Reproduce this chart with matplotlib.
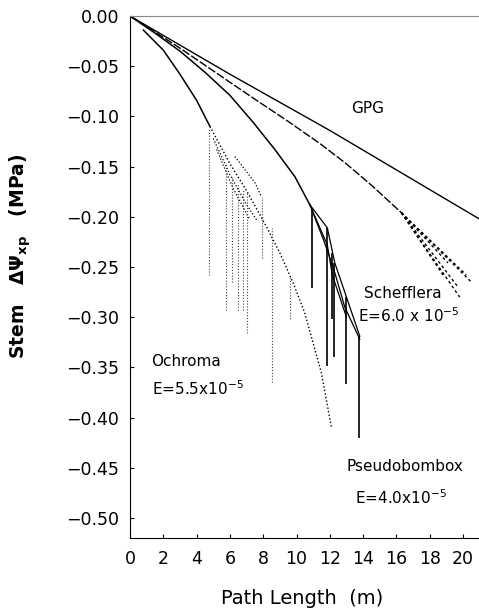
import matplotlib
matplotlib.use("Agg")
import matplotlib.pyplot as plt
import numpy as np

# --- data (path length m, stem dPsi MPa) ---
gpg_x = [0.0, 6.0, 12.0, 20.96]
gpg_y = [0.0, -0.058, -0.114, -0.202]

sch_x = [0.0, 3.0, 6.0, 7.6, 9.5, 11.4, 12.9, 14.6, 16.3]
sch_y = [0.0, -0.032, -0.066, -0.084, -0.105, -0.127, -0.146, -0.170, -0.196]
sch_end_x = [18.8, 19.1, 19.7, 19.8, 20.2, 20.5]
sch_end_y = [-0.258, -0.246, -0.270, -0.280, -0.258, -0.265]

pse_x = [0.0, 1.5, 3.0, 4.5, 6.0, 7.4, 8.7, 9.9, 10.8]
pse_y = [0.0, -0.017, -0.035, -0.056, -0.079, -0.106, -0.133, -0.160, -0.188]
pse_branch_x = [
    [10.8, 11.85, 12.3, 13.0, 13.8],
    [10.8, 11.6, 12.2, 12.9, 13.8],
    [10.8, 11.85, 12.15, 13.0],
]
pse_branch_y = [
    [-0.188, -0.211, -0.246, -0.280, -0.319],
    [-0.188, -0.222, -0.250, -0.290, -0.322],
    [-0.188, -0.228, -0.258, -0.300],
]
pse_drop_x = [10.96, 11.84, 12.14, 12.28, 12.98, 13.77]
pse_drop_top = [-0.191, -0.211, -0.236, -0.246, -0.280, -0.319]
pse_drop_bot = [-0.271, -0.349, -0.302, -0.340, -0.367, -0.420]

och_x = [0.8, 2.0, 3.0, 4.0, 4.8]
och_y = [-0.014, -0.034, -0.058, -0.084, -0.110]
och_dot_x = [4.8, 6.0, 7.0, 8.2, 9.0, 9.8, 10.5, 11.5, 12.1]
och_dot_y = [-0.110, -0.147, -0.174, -0.210, -0.236, -0.266, -0.296, -0.356, -0.410]
och_fan_x = [
    [5.0, 6.0, 7.0, 7.6],
    [5.2, 6.2, 7.2],
    [6.3, 7.5, 7.9],
]
och_fan_y = [
    [-0.122, -0.158, -0.188, -0.203],
    [-0.133, -0.172, -0.203],
    [-0.140, -0.166, -0.180],
]
och_drop_x = [4.75, 5.75, 6.15, 6.47, 6.77, 7.0, 7.9, 8.55, 9.6]
och_drop_top = [-0.112, -0.147, -0.160, -0.167, -0.173, -0.176, -0.180, -0.211, -0.260]
och_drop_bot = [-0.258, -0.293, -0.265, -0.293, -0.293, -0.316, -0.241, -0.365, -0.302]

xticks = np.arange(0, 21, 2)
yticks = np.round(np.arange(0, -0.501, -0.05), 2)

fig = plt.figure(figsize=(4.79, 6.11), dpi=100)
ax = fig.add_axes([130 / 479, 1 - 538 / 611, 349 / 479, 522 / 611])

k = "black"
dots = (0, (1, 1.6))

ax.plot(gpg_x, gpg_y, color=k, lw=1.0)

ax.plot(sch_x, sch_y, color=k, lw=1.0, ls=(0, (6, 1.5)))
for ex, ey in zip(sch_end_x, sch_end_y):
    ax.plot([sch_x[-1], ex], [sch_y[-1], ey], color=k, lw=1.0, ls=(0, (2, 2)))

ax.plot(pse_x, pse_y, color=k, lw=1.1)
for bx, by in zip(pse_branch_x, pse_branch_y):
    ax.plot(bx, by, color=k, lw=0.9)
ax.vlines(pse_drop_x, pse_drop_bot, pse_drop_top, color=k, lw=1.2)

ax.plot(och_x, och_y, color=k, lw=1.1)
ax.plot(och_dot_x, och_dot_y, color=k, lw=1.0, ls=dots)
for fx, fy in zip(och_fan_x, och_fan_y):
    ax.plot(fx, fy, color=k, lw=0.9, ls=dots)
ax.vlines(och_drop_x, och_drop_bot, och_drop_top, color="#444444", lw=0.8, ls=dots)

# labels
tf = dict(fontsize=11, color=k)
ax.text(14.3, -0.092, "GPG", ha="center", va="center", **tf)
ax.text(16.4, -0.276, "Schefflera", ha="center", va="center", **tf)
ax.text(13.7, -0.299, r"E=6.0 x 10$^{-5}$", ha="left", va="center", **tf)
ax.text(3.35, -0.344, "Ochroma", ha="center", va="center", **tf)
ax.text(1.3, -0.371, r"E=5.5x10$^{-5}$", ha="left", va="center", **tf)
ax.text(16.5, -0.449, "Pseudobombox", ha="center", va="center", **tf)
ax.text(13.5, -0.480, r"E=4.0x10$^{-5}$", ha="left", va="center", **tf)

ax.set_xlim(0, 20.96)
ax.set_ylim(-0.52, 0.0)
ax.set_xticks(xticks)
ax.set_yticks(yticks)
ax.set_yticklabels([f"{v:.2f}".replace("-", "\u2212") for v in yticks])
ax.tick_params(direction="in", length=3, width=0.8, labelsize=12.5)
ax.tick_params(axis="y", pad=8)
ax.tick_params(axis="x", pad=9)
ax.spines["right"].set_visible(False)
ax.spines["top"].set_color("#888888")
ax.spines["top"].set_linewidth(0.8)

fig.text(302 / 479, 1 - 598 / 611, "Path Length  (m)", ha="center", va="center",
         fontsize=14)
fig.text(20 / 479, 1 - 256 / 611,
         r"Stem   $\mathbf{\Delta\Psi_{xp}}$   (MPa)",
         rotation=90, ha="center", va="center", fontsize=13.5, fontweight="bold")

fig.savefig("out.png", dpi=100)
